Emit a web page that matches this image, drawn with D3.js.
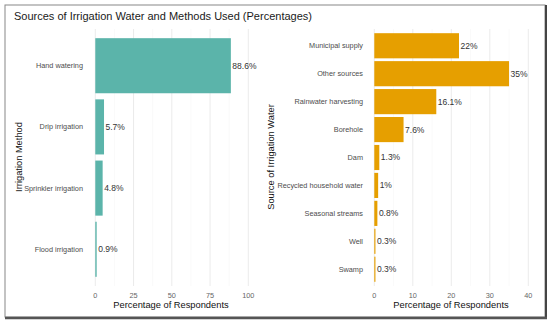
<!DOCTYPE html>
<html>
<head>
<meta charset="utf-8">
<script src="https://cdn.jsdelivr.net/npm/d3@7"></script>
<style>
body { margin: 0; background: #fff; }
svg { font-family: "Liberation Sans", Arial, sans-serif; }
</style>
</head>
<body>
<svg id="chart" width="550" height="324"></svg>
<script>
// irrigation methods
var methods = ["Hand watering", "Drip irrigation", "Sprinkler irrigation", "Flood irrigation"];
var methodValues = [88.6, 5.7, 4.8, 0.9];
var methodTicks = [0, 25, 50, 75, 100];

// water sources
var sources = ["Municipal supply", "Other sources", "Rainwater harvesting", "Borehole", "Dam",
               "Recycled household water", "Seasonal streams", "Well", "Swamp"];
var sourceValues = [22, 35, 16.1, 7.6, 1.3, 1, 0.8, 0.3, 0.3];
var sourceTicks = [0, 10, 20, 30, 40];

var svg = d3.select("#chart");

// frame
svg.append("rect").attr("x", 5).attr("y", 5).attr("width", 540).attr("height", 312)
   .attr("fill", "none").attr("stroke", "#888").attr("stroke-width", 1);
svg.append("line").attr("x1", 546).attr("x2", 546).attr("y1", 5).attr("y2", 318)
   .attr("stroke", "#444").attr("stroke-width", 2);
svg.append("line").attr("x1", 5).attr("x2", 547).attr("y1", 318).attr("y2", 318)
   .attr("stroke", "#555").attr("stroke-width", 2.5);

svg.append("text").attr("x", 14).attr("y", 20)
   .attr("font-size", 11).attr("fill", "#1a1a1a")
   .text("Sources of Irrigation Water and Methods Used (Percentages)");

var drawPanel = function (cats, vals, ticks, opt)
{
    var x = d3.scaleLinear().domain(opt.domain).range(opt.xrange);
    var y = d3.scaleBand().domain(cats).range([29, 286]).paddingInner(0.1).paddingOuter(0.15);
    var g = svg.append("g");

    // minor + major grid
    var step = ticks[1] - ticks[0];
    var minor = ticks.slice(0, -1).map(function (t) { return t + step / 2; });
    g.selectAll(".minor").data(minor).enter().append("line")
        .attr("x1", function (d) { return x(d); }).attr("x2", function (d) { return x(d); })
        .attr("y1", 29).attr("y2", 286).attr("stroke", "#f5f5f5").attr("stroke-width", 0.6);
    g.selectAll(".major").data(ticks).enter().append("line")
        .attr("x1", function (d) { return x(d); }).attr("x2", function (d) { return x(d); })
        .attr("y1", 29).attr("y2", 286).attr("stroke", "#ebebeb").attr("stroke-width", 1);

    g.selectAll(".bar").data(cats).enter().append("rect")
        .attr("x", x(0))
        .attr("y", function (d) { return y(d); })
        .attr("width", function (d, i) { return x(vals[i]) - x(0); })
        .attr("height", y.bandwidth())
        .attr("fill", opt.color);

    g.selectAll(".val").data(cats).enter().append("text")
        .attr("x", function (d, i) { return x(vals[i]) + 1.5; })
        .attr("y", function (d) { return y(d) + y.bandwidth() / 2; })
        .attr("dy", "0.35em").attr("font-size", 8.5).attr("fill", "#333")
        .text(function (d, i) { return vals[i] + "%"; });

    // y labels
    g.selectAll(".cat").data(cats).enter().append("text")
        .attr("x", opt.labelX)
        .attr("y", function (d) { return y(d) + y.bandwidth() / 2; })
        .attr("dy", "0.35em").attr("text-anchor", "end")
        .attr("font-size", 7.3).attr("fill", "#4d4d4d")
        .text(function (d) { return d; });

    // x ticks
    g.selectAll(".tick").data(ticks).enter().append("text")
        .attr("x", function (d) { return x(d); }).attr("y", 297.5)
        .attr("text-anchor", "middle").attr("font-size", 7.3).attr("fill", "#666")
        .text(function (d) { return d; });

    g.append("text").attr("x", opt.titleX).attr("y", 308)
        .attr("text-anchor", "middle").attr("font-size", 9.3).attr("fill", "#111")
        .text("Percentage of Respondents");

    g.append("text")
        .attr("transform", "translate(" + opt.ytitleX + ",157) rotate(-90)")
        .attr("text-anchor", "middle").attr("font-size", 9.3).attr("fill", "#111")
        .text(opt.ytitle);
};

drawPanel(methods, methodValues, methodTicks, {
    domain: [0, 100], xrange: [95.3, 248.3], color: "#5BB4AA",
    labelX: 83, titleX: 171, ytitleX: 22, ytitle: "Irrigation Method"
});
drawPanel(sources, sourceValues, sourceTicks, {
    domain: [0, 40], xrange: [374.3, 528.3], color: "#E69F00",
    labelX: 363, titleX: 451, ytitleX: 274, ytitle: "Source of Irrigation Water"
});
</script>
</body>
</html>
